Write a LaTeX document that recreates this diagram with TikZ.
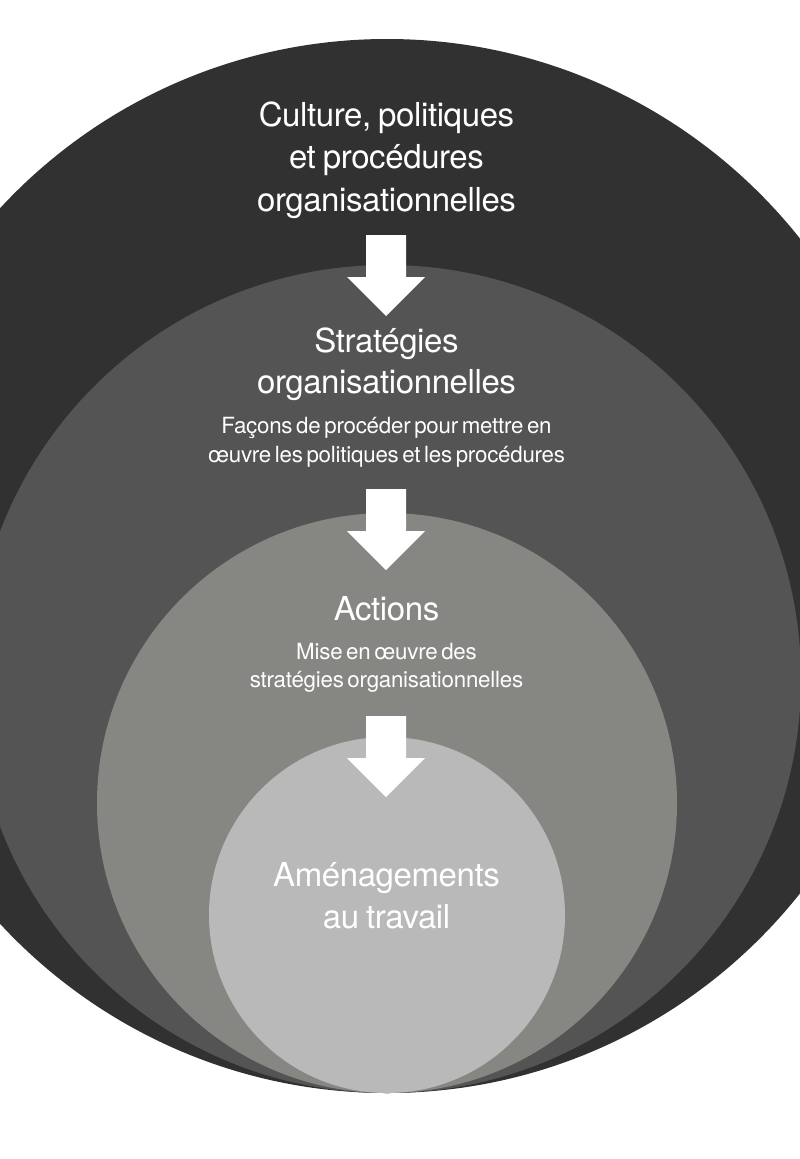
\documentclass[tikz,border=0pt]{standalone}
\usepackage{fontspec}
\setmainfont{TeX Gyre Heros}
\newfontfamily\bigfam{TeX Gyre Heros}[LetterSpace=-1.2,WordSpace=0.8]
\newfontfamily\smallfam{TeX Gyre Heros}[LetterSpace=-1,WordSpace=0.6]
\definecolor{ringA}{HTML}{313131}
\definecolor{ringB}{HTML}{545454}
\definecolor{ringC}{HTML}{868682}
\definecolor{ringD}{HTML}{B9B9B9}
\tikzset{
  bigtxt/.style={text=white, anchor=base, inner sep=0pt,
    font=\bigfam\fontsize{33}{42}\selectfont},
  smalltxt/.style={text=white, anchor=base, inner sep=0pt,
    font=\smallfam\fontsize{22.3}{28}\selectfont},
  downarrow/.pic={\fill[white] (-20,0) -- (20,0) -- (20,42) -- (39,42) -- (0,81) -- (-39,42) -- (-20,42) -- cycle;}
}
\begin{document}
\begin{tikzpicture}[x=1pt,y=-1pt]
\useasboundingbox (0,0) rectangle (800,1159);
\clip (0,0) rectangle (800,1159);
\fill[ringA] (387,566) circle[radius=527pt];
\fill[ringB] (387,679) circle[radius=414pt];
\fill[ringC] (387,803) circle[radius=290pt];
\fill[ringD] (387,915) circle[radius=178pt];
% texts
\node[bigtxt] (a1) at (386.5,126) {Culture, politiques};
\node[bigtxt] (a2) at (386.5,168) {et procédures};
\node[bigtxt] (a3) at (386.5,211) {organisationnelles};
\node[bigtxt] (b1) at (386.5,352) {Stratégies};
\node[bigtxt] (b2) at (386.5,393) {organisationnelles};
\node[smalltxt] (b3) at (386.5,433) {Façons de procéder pour mettre en};
\node[smalltxt] (b4) at (386.5,462) {œuvre les politiques et les procédures};
\node[bigtxt] (c1) at (386.5,620) {Actions};
\node[smalltxt] (c2) at (386.5,659) {Mise en œuvre des};
\node[smalltxt] (c3) at (386.5,687) {stratégies organisationnelles};
\node[bigtxt] (d1) at (386.5,886) {Aménagements};
\node[bigtxt] (d2) at (386.5,928) {au travail};
% arrows
\pic at (386,235) {downarrow};
\pic at (386,489) {downarrow};
\pic at (386,716) {downarrow};
\end{tikzpicture}
\end{document}
